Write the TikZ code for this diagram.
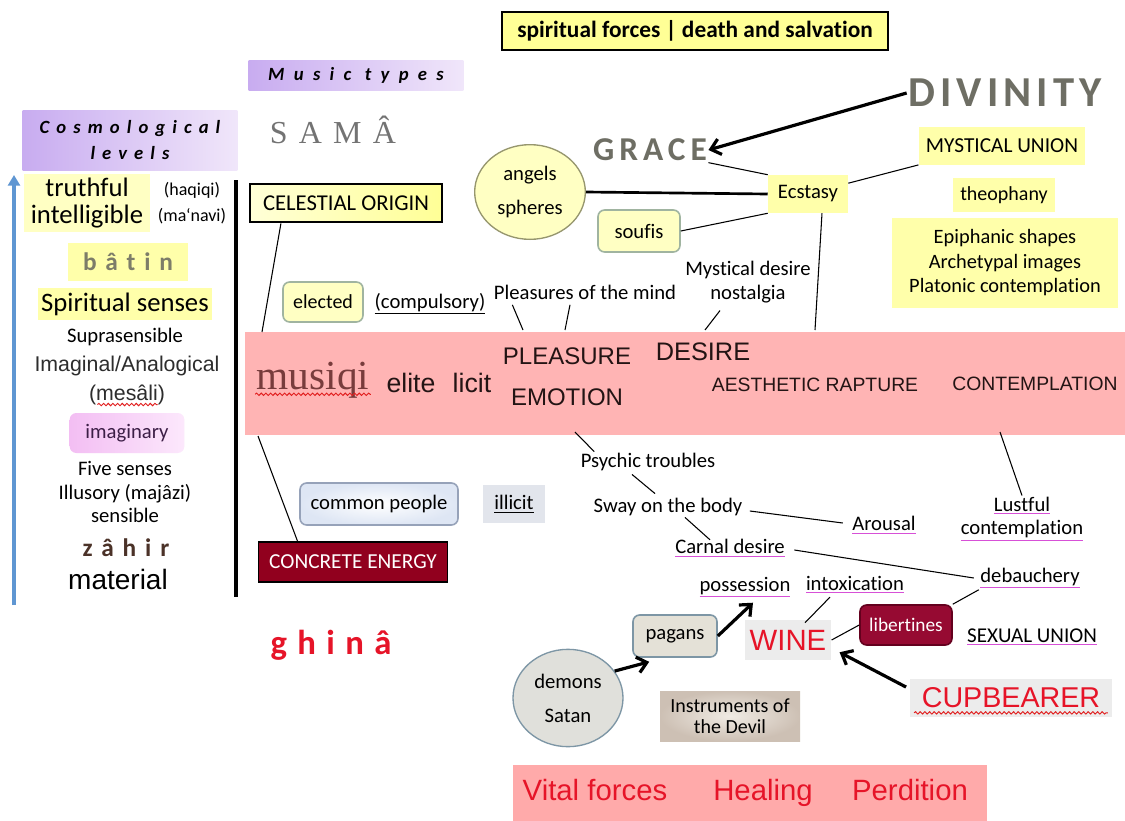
\documentclass[tikz,border=0pt]{standalone}
\usepackage{fontspec}
\setmainfont{Carlito}[Ligatures=NoCommon]
\newfontfamily\arialfont{Liberation Sans}
\newfontfamily\timesfont{Liberation Serif}
\usetikzlibrary{shapes.geometric, arrows.meta, calc, positioning, decorations.pathmorphing}

\definecolor{titleyellow}{RGB}{255,255,150}
\definecolor{hiyellow}{RGB}{255,255,170}
\definecolor{lightyellow}{RGB}{255,255,195}
\definecolor{paleyellow}{RGB}{255,255,215}
\definecolor{violetdeep}{RGB}{200,172,240}
\definecolor{violetpale}{RGB}{240,230,250}
\definecolor{bandpink}{RGB}{255,180,180}
\definecolor{lowpink}{RGB}{255,170,170}
\definecolor{levelblue}{RGB}{95,150,210}
\definecolor{darktext}{RGB}{45,45,45}
\definecolor{imagpink}{RGB}{243,190,243}
\definecolor{imagpale}{RGB}{252,232,252}
\definecolor{imagtext}{RGB}{60,30,70}
\definecolor{batingray}{RGB}{125,125,105}
\definecolor{zahirbrown}{RGB}{75,50,40}
\definecolor{samagray}{RGB}{115,115,115}
\definecolor{gracegray}{RGB}{110,110,100}
\definecolor{greenborder}{RGB}{160,180,160}
\definecolor{angelborder}{RGB}{150,150,110}
\definecolor{musiqired}{RGB}{120,60,60}
\definecolor{bandtext}{RGB}{35,20,20}
\definecolor{blueborder}{RGB}{150,162,185}
\definecolor{commonblue}{RGB}{222,230,244}
\definecolor{illicitgray}{RGB}{226,229,236}
\definecolor{darkred}{RGB}{145,0,30}
\definecolor{alertred}{RGB}{230,20,40}
\definecolor{wavered}{RGB}{225,30,30}
\definecolor{ulmagenta}{RGB}{215,80,215}
\definecolor{winegray}{RGB}{236,236,236}
\definecolor{libred}{RGB}{150,10,50}
\definecolor{libborder}{RGB}{100,0,30}
\definecolor{pagangray}{RGB}{228,225,215}
\definecolor{paganborder}{RGB}{125,150,165}
\definecolor{demongray}{RGB}{224,224,219}
\definecolor{devilbrown}{RGB}{205,192,180}
\definecolor{devilpale}{RGB}{240,235,228}

\newcommand\fsz[2]{\fontsize{#1}{#2}\selectfont}
\newcommand\magline[1]{{\color{ulmagenta}\underline{\textcolor{black}{#1}}}}

\tikzstyle{txt} = [inner sep=1pt, align=center, font=\fsz{15.5}{18}]
\tikzstyle{hilite} = [rectangle, fill=hiyellow, inner sep=0pt, align=center]
\tikzstyle{blackbox} = [rectangle, draw=black, line width=1.6pt, inner sep=0pt, align=center]
\tikzstyle{softbox} = [rectangle, rounded corners=5pt, line width=1.2pt, inner sep=0pt, align=center]
\tikzstyle{link} = [line width=0.8pt]
\tikzstyle{arrow} = [line width=2.4pt, ->, >={Straight Barb[length=7pt,width=12pt]}]
\tikzstyle{wave} = [wavered, line width=0.7pt, decorate, decoration={snake, amplitude=0.9pt, segment length=3.5pt}]

\begin{document}
\begin{tikzpicture}[x=0.75pt, y=-0.75pt]
	\fill[white] (0,0) rectangle (1125,821);
	\useasboundingbox (0,0) rectangle (1125,821);
	% bands
	\node (Band) [rectangle, fill=bandpink, minimum width=660pt, minimum height=77pt, inner sep=0pt] at (685,383.5) {};
	\node (LowBand) [rectangle, fill=lowpink, minimum width=356pt, minimum height=42pt, inner sep=0pt] at (750,793) {};
	% headings
	\node (Title) [blackbox, fill=titleyellow, minimum width=289pt, minimum height=28.5pt, font={\bfseries\fsz{17.5}{20}}] at (695,31) {spiritual forces | death and salvation};
	\node (MusicTypes) [rectangle, left color=violetdeep, right color=violetpale, minimum width=161pt, minimum height=22.5pt, font={\bfseries\itshape\fsz{14}{16}\addfontfeatures{LetterSpace=50}}] at (356,75) {Music types};
	\node (CosmoLevels) [rectangle, left color=violetdeep, right color=violetpale, minimum width=161pt, minimum height=45pt, align=center, font={\bfseries\itshape\fsz{14}{19}\addfontfeatures{LetterSpace=38}}] at (130,140) {Cosmological\\levels};
	% cosmological levels
	\node (Truthful) [hilite, fill=lightyellow, minimum width=94pt, minimum height=43pt, font={\fsz{20}{20}}] at (87,203) {truthful\\intelligible};
	\node (Haqiqi) [txt, font={\fsz{13.5}{19.5}}] at (192,203) {(haqiqi)\\(ma‘navi)};
	\node (Batin) [hilite, minimum width=90pt, minimum height=28pt, text=batingray, font={\bfseries\fsz{19}{22}\addfontfeatures{LetterSpace=35}}] at (128,262) {bâtin};
	\node (SpiritSenses) [hilite, minimum width=130pt, minimum height=24pt, font={\fsz{20}{22}}] at (125,304) {Spiritual senses};
	\node (Suprasens) [txt] at (125,337) {Suprasensible};
	\node (Imaginal) [txt, text=darktext, font={\arialfont\fsz{16}{19}}] at (127,366) {Imaginal/Analogical};
	\node (Mesali) [txt, text=darktext, font={\arialfont\fsz{16}{19}}] at (127,395) {(mesâli)};
	\node (Imaginary) [softbox, left color=imagpink, right color=imagpale, minimum width=86pt, minimum height=30pt, text=imagtext, font={\fsz{15.5}{18}}] at (127,433) {imaginary};
	\node (FiveSenses) [txt, font={\fsz{15.5}{17.3}}] at (125,492) {Five senses\\Illusory (majâzi)\\sensible};
	\node (Zahir) [txt, text=zahirbrown, font={\bfseries\fsz{19}{22}\addfontfeatures{LetterSpace=35}}] at (126,548) {zâhir};
	\node (Material) [txt, font={\arialfont\fsz{21}{24}}] at (118,579) {material};
	\coordinate (LevelsBottom) at (14,605);
	\coordinate (LevelsTop) at (14,175);
	\draw [line width=2.5pt, levelblue, -{Triangle[length=8pt,width=9pt]}] (LevelsBottom) -- (LevelsTop);
	\coordinate (DivideTop) at (236,180);
	\coordinate (DivideBottom) at (236,597);
	\draw [line width=2.4pt] (DivideTop) -- (DivideBottom);
	% music types
	\node (Sama) [txt, text=samagray, font={\timesfont\fsz{24}{28}\addfontfeatures{LetterSpace=35}}] at (333,130) {SAMÂ};
	\node (CelOrigin) [blackbox, left color=paleyellow, right color=titleyellow, minimum width=144pt, minimum height=29pt, font={\fsz{17}{20}}] at (346,203) {CELESTIAL ORIGIN};
	\node (Elected) [softbox, draw=greenborder, fill=lightyellow, minimum width=60pt, minimum height=30pt, font={\fsz{15}{18}}] at (323,302) {elected};
	\node (Compulsory) [txt] at (430,304) {\underline{(compulsory)}};
	% spiritual side
	\node (Angels) [ellipse, draw=angelborder, line width=1pt, fill=lightyellow, minimum width=83pt, minimum height=71pt, inner sep=0pt, align=center, font={\fsz{15.5}{25}}] at (530,192) {angels\\spheres};
	\node (Grace) [txt, text=gracegray, font={\bfseries\fsz{25}{28}\addfontfeatures{LetterSpace=15}}] at (650,150) {GRACE};
	\node (Divinity) [txt, text=gracegray, font={\bfseries\fsz{32}{36}\addfontfeatures{LetterSpace=12}}] at (1005,93) {DIVINITY};
	\node (Ecstasy) [hilite, minimum width=60pt, minimum height=28.5pt, font={\fsz{15.5}{18}}] at (808,194) {Ecstasy};
	\node (MystUnion) [hilite, minimum width=125pt, minimum height=28pt, font={\fsz{16}{19}}] at (1002,146) {MYSTICAL UNION};
	\node (Soufis) [softbox, draw=greenborder, fill=lightyellow, minimum width=61.5pt, minimum height=31.5pt, font={\fsz{15.5}{18}}] at (639,231) {soufis};
	\node (Theophany) [hilite, minimum width=77pt, minimum height=25.5pt, font={\fsz{15}{18}}] at (1004,195) {theophany};
	\node (Epiphanic) [hilite, minimum width=169pt, minimum height=67pt, font={\fsz{15.3}{18.4}}] at (1005,263) {Epiphanic shapes\\Archetypal images\\Platonic contemplation};
	\node (PleasMind) [txt] at (585,292) {Pleasures of the mind};
	\node (MystDesire) [txt, font={\fsz{15.5}{18}}] at (748,282) {Mystical desire\\nostalgia};
	% texts in the band
	\node (Musiqi) [txt, text=musiqired, font={\timesfont\fsz{31}{34}}] at (313,380) {musiqi};
	\node (Elite) [txt, text=bandtext, font={\arialfont\fsz{20}{24}}] at (411,383) {elite};
	\node (Licit) [txt, text=bandtext, font={\arialfont\fsz{20}{24}}] at (472,383) {licit};
	\node (Pleasure) [txt, text=bandtext, font={\arialfont\fsz{18}{21}}] at (567,356) {PLEASURE};
	\node (Emotion) [txt, text=bandtext, font={\arialfont\fsz{18}{21}}] at (567,397) {EMOTION};
	\node (Desire) [txt, text=bandtext, font={\arialfont\fsz{19}{22}}] at (703,352) {DESIRE};
	\node (Rapture) [txt, text=bandtext, font={\arialfont\fsz{14.5}{17}}] at (815,385) {AESTHETIC RAPTURE};
	\node (Contemp) [txt, text=bandtext, font={\arialfont\fsz{14.5}{17}}] at (1035,384) {CONTEMPLATION};
	% material side
	\node (CommonPeople) [softbox, draw=blueborder, inner color=white, outer color=commonblue, minimum width=118.5pt, minimum height=31.5pt, font={\fsz{15.5}{18}}] at (379,504) {common people};
	\node (Illicit) [rectangle, fill=illicitgray, minimum width=47pt, minimum height=29pt, font={\fsz{15.5}{18}}] at (514,504) {\underline{illicit}};
	\node (ConcEnergy) [blackbox, line width=1.2pt, fill=darkred, text=white, minimum width=142pt, minimum height=30pt, font={\fsz{16}{19}}] at (353,562) {CONCRETE ENERGY};
	\node (Ghina) [txt, text=alertred, font={\bfseries\fsz{26}{30}\addfontfeatures{LetterSpace=30}}] at (331,645) {ghinâ};
	\node (Psychic) [txt] at (648,462) {Psychic troubles};
	\node (Sway) [txt] at (668,507) {Sway on the body};
	\node (Carnal) [txt] at (730,548) {\magline{Carnal desire}};
	\node (Arousal) [txt] at (884,525) {\magline{Arousal}};
	\node (Lustful) [txt, font={\fsz{15.5}{17.5}}] at (1022,519) {\magline{Lustful}\\\magline{contemplation}};
	\node (Debauch) [txt] at (1030,578) {\magline{debauchery}};
	\node (Possession) [txt] at (745,587) {\magline{possession}};
	\node (Intox) [txt] at (855,585) {\magline{intoxication}};
	\node (Wine) [rectangle, fill=winegray, minimum width=65pt, minimum height=30pt, text=alertred, font={\arialfont\fsz{22}{26}}] at (788,640) {WINE};
	\node (Libertines) [softbox, draw=libborder, fill=libred, text=white, minimum width=69pt, minimum height=30pt, font={\fsz{14.5}{17}}] at (906,625) {libertines};
	\node (SexUnion) [txt, font={\fsz{15.8}{18}}] at (1032,637) {\magline{SEXUAL UNION}};
	\node (Cupbearer) [rectangle, fill=winegray, minimum width=151pt, minimum height=28pt, text=alertred, font={\arialfont\fsz{21.5}{26}}] at (1011,698) {CUPBEARER};
	\node (Pagans) [softbox, draw=paganborder, fill=pagangray, minimum width=63pt, minimum height=31.5pt, font={\fsz{15.5}{18}}] at (675,636) {pagans};
	\node (Demons) [ellipse, draw=paganborder, line width=1pt, fill=demongray, minimum width=82.5pt, minimum height=73pt, inner sep=0pt, align=center, font={\fsz{15.5}{25.5}}] at (568,698) {demons\\Satan};
	\node (Instruments) [rectangle, inner color=devilpale, outer color=devilbrown, minimum width=105pt, minimum height=37.5pt, align=center, font={\fsz{15}{16}}] at (730,716) {Instruments of\\the Devil};
	\node (Vital) [txt, anchor=base, text=alertred, font={\arialfont\fsz{22}{25}}] at (595,800) {Vital forces};
	\node (Healing) [txt, anchor=base, text=alertred, font={\arialfont\fsz{22}{25}}] at (763,800) {Healing};
	\node (Perdition) [txt, anchor=base, text=alertred, font={\arialfont\fsz{22}{25}}] at (910,800) {Perdition};
	% wavy underlines
	\draw [wave] ($(Mesali.base west)+(10,4)$) -- ($(Mesali.base east)+(-9,4)$);
	\draw [wave] ($(Musiqi.base west)+(0,5)$) -- ($(Musiqi.base east)+(0,5)$);
	\draw [wave] ($(Cupbearer.base west)+(4,5)$) -- ($(Cupbearer.base east)+(-4,5)$);
	% feet of the lines on the band
	\coordinate (CelFoot) at (262,332);
	\coordinate (PleasFootA) at (523,330);
	\coordinate (PleasFootB) at (565,330);
	\coordinate (DesireFoot) at (705,330);
	\coordinate (EcstasyFoot) at (815,330);
	\coordinate (EnergyFoot) at (258,436);
	\coordinate (PsychicFoot) at (575,432);
	\coordinate (LustFoot) at (1000,432);
	% connectors
	\draw [link] ($(CelOrigin.south west)+(32,0)$) -- (CelFoot);
	\draw [link] ($(PleasMind.south west)+(20,4)$) -- (PleasFootA);
	\draw [link] ($(PleasMind.south)+(-15,4)$) -- (PleasFootB);
	\draw [link] ($(MystDesire.south)+(-28,6)$) -- (DesireFoot);
	\draw [link] ($(Ecstasy.south)+(14,0)$) -- (EcstasyFoot);
	\draw [arrow] (Divinity.west) -- (Grace.east);
	\draw [link] (Grace.south east) -- (Ecstasy.north west);
	\draw [line width=2pt] (Angels.east) -- (Ecstasy.west);
	\draw [link] (Soufis.east) -- (Ecstasy.south west);
	\draw [link] (Ecstasy.15) -- (MystUnion.south west);
	\draw [link] (EnergyFoot) -- ($(ConcEnergy.north west)+(40,0)$);
	\draw [link] (PsychicFoot) -- ($(Psychic.north west)+(15,0)$);
	\draw [link] ($(Psychic.south)+(-16,2)$) -- ($(Sway.north)+(-13,-3)$);
	\draw [link] ($(Sway.south)+(17,0)$) -- ($(Carnal.north)+(-20,2)$);
	\draw [link] ($(Sway.east)+(6,4)$) -- ($(Arousal.west)+(-8,-2)$);
	\draw [link] ($(Carnal.east)+(8,2)$) -- ($(Debauch.west)+(-5,0)$);
	\draw [link] (LustFoot) -- (Lustful.north);
	\draw [link] ($(Wine.north)+(17,3)$) -- ($(Intox.south)+(-25,2)$);
	\draw [link] (Wine.east) -- (Libertines.west);
	\draw [link] (Libertines.north east) -- (Debauch.south west);
	\draw [arrow] ($(Cupbearer.north west)+(-4,8)$) -- ($(Wine.south east)+(8,-8)$);
	\draw [arrow] (Pagans.east) -- ($(Possession.south)+(8,4)$);
	\draw [arrow] (Demons.30) -- ($(Pagans.south west)+(17,4)$);
\end{tikzpicture}
\end{document}
